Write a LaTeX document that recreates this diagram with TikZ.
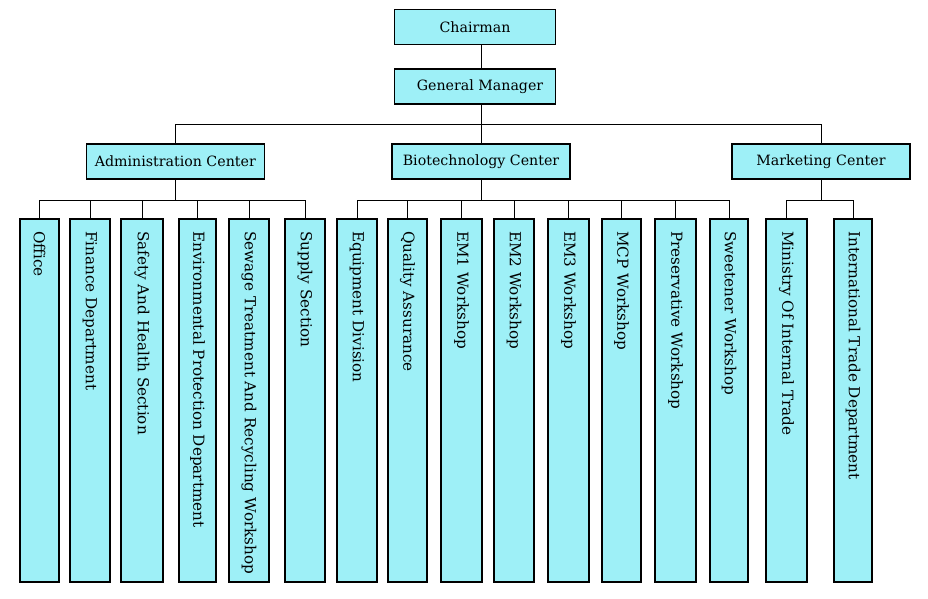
\documentclass[tikz,border=0pt]{standalone}
\usepackage{fontspec}
\setmainfont{DejaVu Serif}
\usetikzlibrary{calc}
\definecolor{boxfill}{RGB}{158,240,247}
\tikzset{
  x=1pt,y=-1pt,
  conn/.style={draw=black,line width=1pt},
  hbox/.style={draw=black,line width=1.1pt,fill=boxfill,inner sep=0pt,
    font=\fontsize{14.2}{16}\selectfont,minimum height=35pt},
  vbox/.style={draw=black,line width=1.1pt,fill=boxfill,inner sep=0pt,
    minimum height=363pt},
  vlabel/.style={rotate=-90,anchor=west,inner sep=0pt,font=\fontsize{15.2}{17}\selectfont}
}
\begin{document}
\begin{tikzpicture}
\useasboundingbox[fill=white] (0,0) rectangle (928,598);
% top
\node[hbox,minimum width=161pt] (chair) at (475,27) {Chairman};
\node[hbox,minimum width=161pt] (gm) at (475,86.5) {\hspace{10pt}General Manager};
% centers
\node[hbox,minimum width=178pt] (adm) at (175.3,161.5) {Administration Center};
\node[hbox,minimum width=178pt] (bio) at (481,161.5) {Biotechnology Center\hspace{6pt}};
\node[hbox,minimum width=178pt] (mkt) at (821,161.5) {Marketing Center};
\coordinate (bus0) at (0,124);
\coordinate (busA) at (0,200);
\coordinate (labY) at (0,231);
% children
\foreach \n/\x/\w/\t in {office/39.5/39/Office, fin/90/40/Finance Department, safe/142/42/Safety And Health Section, env/197.5/37/Environmental Protection Department, sew/249/40/Sewage Treatment And Recycling Workshop, sup/305/40/Supply Section,
 equip/357/40/Equipment Division, qa/407.5/39/Quality Assurance, em1/461.5/41/EM1 Workshop, em2/514/40/EM2 Workshop, em3/568.5/41/EM3 Workshop, mcp/621.5/39/MCP Workshop, pres/675.5/41/Preservative Workshop, sweet/729/38/Sweetener Workshop,
 min/786.5/41/Ministry Of Internal Trade, intl/853/38/International Trade Department}{
  \node[vbox,minimum width=\w pt] (\n) at (\x,400.5) {};
  \node[vlabel] (\n-t) at (\n.north |- labY) {\t};
}
% connectors
\draw[conn] (chair.south -| bio.north) -- (gm.north -| bio.north);
\draw[conn] (gm.south -| bio.north) -- (bio.north);
\foreach \c in {adm,mkt}{
  \draw[conn] (gm.south -| bio.north) |- (\c.north |- bus0) -- (\c.north);
}
\foreach \c in {office,fin,safe,env,sew,sup}{
  \draw[conn] (adm.south) |- (\c.north |- busA) -- (\c.north);
}
\foreach \c in {equip,qa,em1,em2,em3,mcp,pres,sweet}{
  \draw[conn] (bio.south) |- (\c.north |- busA) -- (\c.north);
}
\foreach \c in {min,intl}{
  \draw[conn] (mkt.south) |- (\c.north |- busA) -- (\c.north);
}
\end{tikzpicture}
\end{document}
